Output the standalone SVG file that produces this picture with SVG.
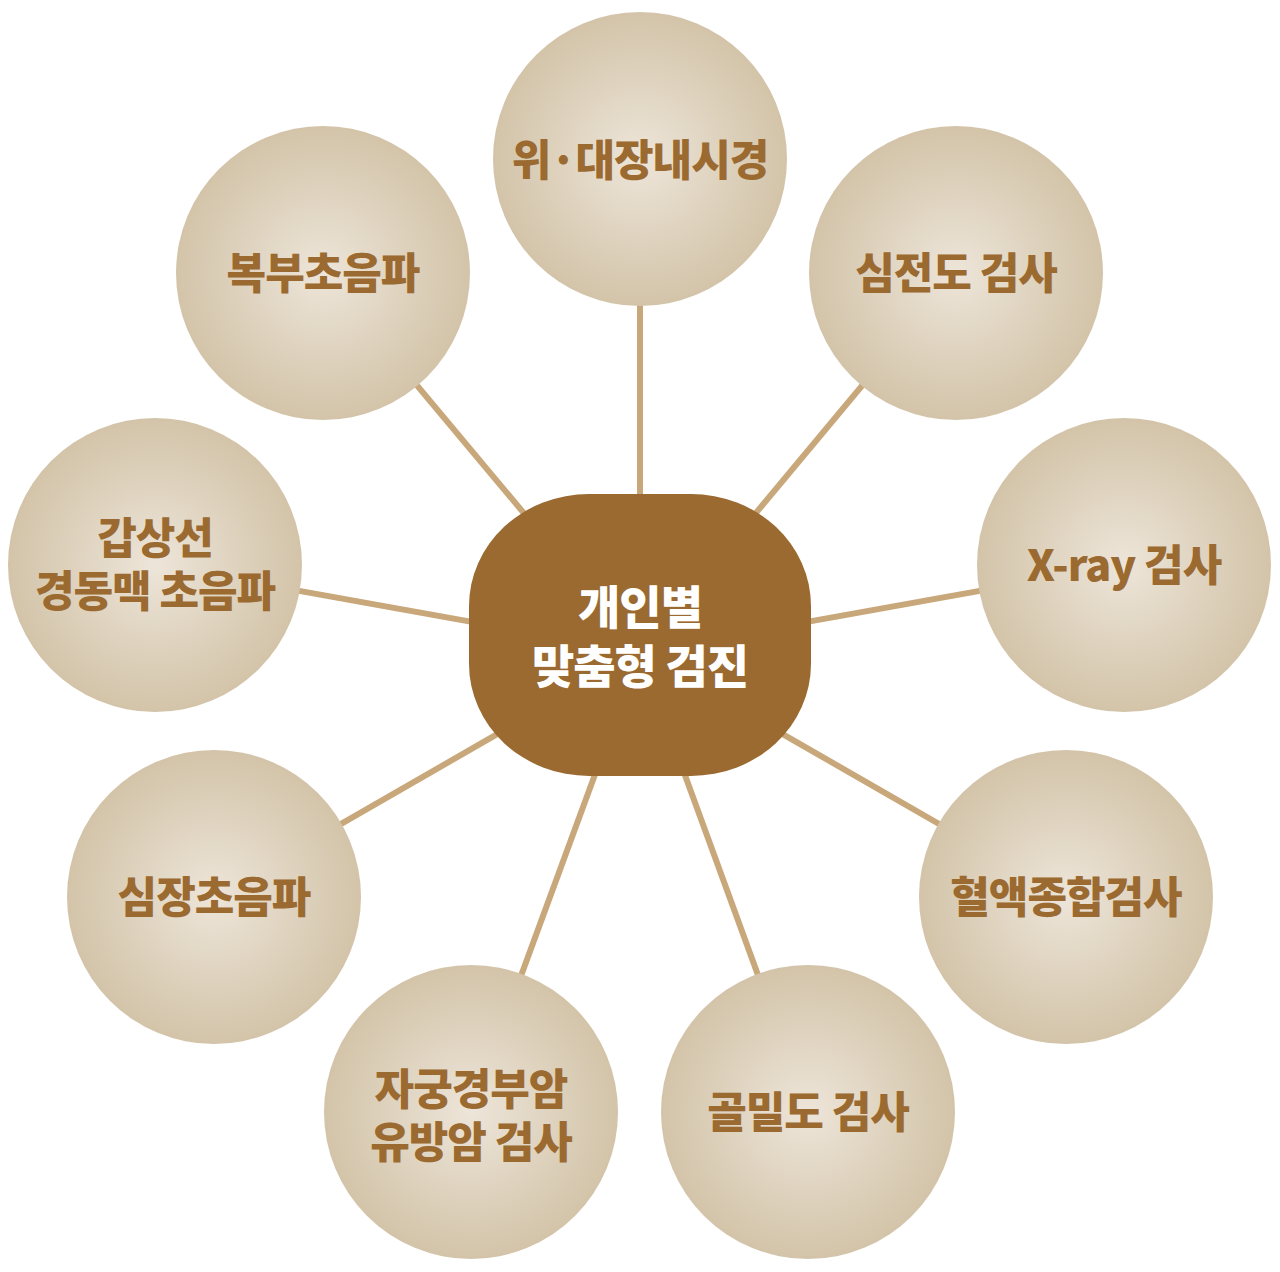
<svg xmlns="http://www.w3.org/2000/svg" width="1280" height="1272" viewBox="0 0 1280 1272">
<defs>
<radialGradient id="g" cx="0.5" cy="0.5" r="0.5">
<stop offset="0" stop-color="#ede5d9"/>
<stop offset="1" stop-color="#d3c4a9"/>
</radialGradient>
<style>
.c{fill:url(#g)}
.t{font-family:"Noto Sans CJK KR","Noto Sans",sans-serif;font-weight:900;font-size:43px;fill:#9b6a30;text-anchor:middle;dominant-baseline:central;letter-spacing:-1px}
.w{font-family:"Noto Sans CJK KR","Noto Sans",sans-serif;font-weight:900;font-size:46px;fill:#ffffff;text-anchor:middle;dominant-baseline:central;letter-spacing:-1px}
.l{stroke:#c8a87a;stroke-width:6;fill:none}
</style>
</defs>
<rect width="1280" height="1272" fill="#ffffff"/>
<g id="connectors">
<line class="l" x1="640" y1="652" x2="640" y2="159"/>
<line class="l" x1="640" y1="652" x2="956" y2="273"/>
<line class="l" x1="640" y1="652" x2="323" y2="273"/>
<line class="l" x1="640" y1="652" x2="1124" y2="565"/>
<line class="l" x1="640" y1="652" x2="155" y2="565"/>
<line class="l" x1="640" y1="652" x2="1066" y2="897"/>
<line class="l" x1="640" y1="652" x2="214" y2="897"/>
<line class="l" x1="640" y1="652" x2="808" y2="1112"/>
<line class="l" x1="640" y1="652" x2="471" y2="1112"/>
</g>
<g id="n1"><circle class="c" cx="640" cy="159" r="147"/><text class="t" x="640" y="157">위·대장내시경</text></g>
<g id="n2"><circle class="c" cx="956" cy="273" r="147"/><text class="t" x="956" y="270">심전도 검사</text></g>
<g id="n3"><circle class="c" cx="323" cy="273" r="147"/><text class="t" x="323" y="270">복부초음파</text></g>
<g id="n4"><circle class="c" cx="1124" cy="565" r="147"/><text class="t" x="1124" y="562">X-ray 검사</text></g>
<g id="n5"><circle class="c" cx="155" cy="565" r="147"/><text class="t" x="155" y="535">갑상선</text><text class="t" x="155" y="588">경동맥 초음파</text></g>
<g id="n6"><circle class="c" cx="1066" cy="897" r="147"/><text class="t" x="1066" y="894">혈액종합검사</text></g>
<g id="n7"><circle class="c" cx="214" cy="897" r="147"/><text class="t" x="214" y="894">심장초음파</text></g>
<g id="n8"><circle class="c" cx="808" cy="1112" r="147"/><text class="t" x="808" y="1109">골밀도 검사</text></g>
<g id="n9"><circle class="c" cx="471" cy="1112" r="147"/><text class="t" x="471" y="1086">자궁경부암</text><text class="t" x="471" y="1139">유방암 검사</text></g>
<g id="center"><rect x="469" y="494" width="342" height="282" rx="120" ry="112" fill="#9b6a30"/><text class="w" x="640" y="604">개인별</text><text class="w" x="640" y="663">맞춤형 검진</text></g>
</svg>
